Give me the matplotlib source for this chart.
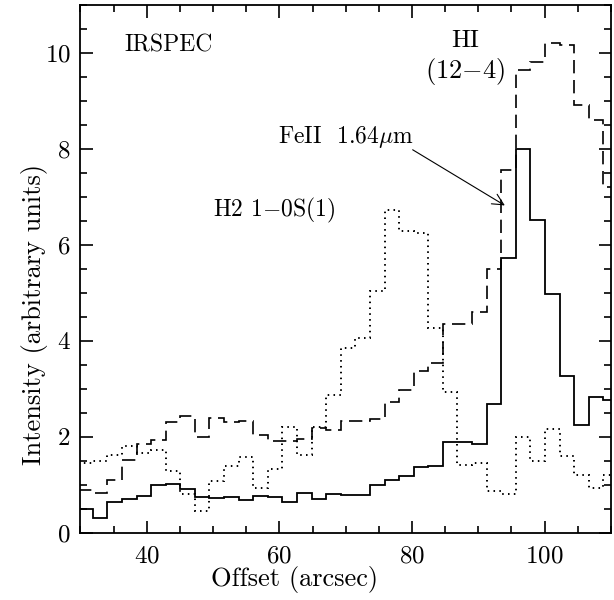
import numpy as np
import matplotlib
matplotlib.use("Agg")
import matplotlib.pyplot as plt
from matplotlib.ticker import MultipleLocator

plt.rcParams['font.family'] = 'serif'
plt.rcParams['font.serif'] = ['cmr10', 'DejaVu Serif']
plt.rcParams['mathtext.fontset'] = 'cm'
plt.rcParams['axes.formatter.use_mathtext'] = True
plt.rcParams['axes.unicode_minus'] = False

# bin edges in arcsec
edges = [29.66, 31.86, 34.06, 36.26, 38.46, 40.66, 42.86, 45.06, 47.26, 49.46,
         51.66, 53.86, 56.06, 58.26, 60.46, 62.66, 64.86, 67.06, 69.26, 71.46,
         73.66, 75.86, 78.06, 80.26, 82.46, 84.66, 86.86, 89.06, 91.26, 93.46,
         95.66, 97.86, 100.06, 102.26, 104.46, 106.66, 108.86, 111.06]

# FeII 1.64 um (solid)
feii = [0.50, 0.31, 0.64, 0.70, 0.76, 1.00, 1.02, 0.92, 0.75, 0.73,
        0.75, 0.69, 0.77, 0.75, 0.64, 0.82, 0.70, 0.81, 0.78, 0.78,
        0.99, 1.09, 1.18, 1.37, 1.40, 1.89, 1.89, 1.86, 2.69, 5.73,
        7.99, 6.51, 4.98, 3.26, 2.24, 2.83, 2.77]

# HI (12-4) (dashed)
hi = [0.89, 0.82, 1.09, 1.52, 1.86, 1.93, 2.31, 2.43, 2.00, 2.40,
      2.31, 2.33, 2.03, 1.91, 1.91, 1.95, 2.19, 2.15, 2.33, 2.33,
      2.37, 2.73, 2.97, 3.37, 3.53, 4.36, 4.36, 4.61, 5.50, 7.55,
      9.64, 9.81, 10.20, 10.17, 8.91, 8.60, 7.20]

# H2 1-0S(1) (dotted)
h2 = [1.46, 1.49, 1.62, 1.80, 1.67, 1.73, 1.29, 0.81, 0.46, 1.07,
      1.40, 1.58, 0.94, 1.33, 2.20, 1.62, 2.20, 2.87, 3.85, 4.06,
      5.04, 6.73, 6.28, 6.24, 4.26, 2.93, 1.42, 1.46, 0.88, 0.81,
      2.00, 1.50, 2.17, 1.60, 1.21, 0.93, 1.21]

fig = plt.figure(figsize=(6.14, 6.0), dpi=100)
ax = fig.add_axes([0.131, 0.112, 0.864, 0.880])

ax.stairs(feii, edges, baseline=None, color='black', lw=1.3, linestyle='-')
ax.stairs(hi, edges, baseline=None, color='black', lw=1.2, linestyle=(0, (8, 4)))
ax.stairs(h2, edges, baseline=None, color='black', lw=1.4, linestyle=(0, (0.8, 2.2)))

ax.set_xlim(30, 110)
ax.set_ylim(0, 11)
ax.xaxis.set_major_locator(MultipleLocator(20))
ax.xaxis.set_minor_locator(MultipleLocator(5))
ax.yaxis.set_major_locator(MultipleLocator(2))
ax.yaxis.set_minor_locator(MultipleLocator(0.5))
ax.tick_params(which='both', direction='in', top=True, right=True, width=1.2,
               labelsize=18)
ax.tick_params(which='major', length=9)
ax.tick_params(which='minor', length=5)
ax.tick_params(axis='x', pad=9)
ax.tick_params(axis='y', pad=7)
for s in ax.spines.values():
    s.set_linewidth(1.3)

ax.set_xlabel('Offset (arcsec)', fontsize=19)
ax.set_ylabel('Intensity (arbitrary units)', fontsize=19)
ax.xaxis.set_label_coords(0.403, -0.062)
ax.yaxis.set_label_coords(-0.062, 0.413)

ax.text(36.7, 10.15, 'IRSPEC', fontsize=17, ha='left', va='center')
ax.text(88.0, 10.25, 'HI', fontsize=18, ha='center', va='center')
ax.text(88.0, 9.62, r'$(12{-}4)$', fontsize=19, ha='center', va='center')
ax.text(50.0, 6.72, r'H2 1$-$0S(1)', fontsize=17, ha='left', va='center')
ax.text(59.8, 8.25, r'FeII  1.64$\mu$m', fontsize=17, ha='left', va='center')
ax.annotate('', xy=(94.0, 6.82), xytext=(80.1, 7.98),
            arrowprops=dict(arrowstyle='->', color='black', lw=0.8,
                            shrinkA=0, shrinkB=0, mutation_scale=20))

fig.savefig('out.png', dpi=100)
